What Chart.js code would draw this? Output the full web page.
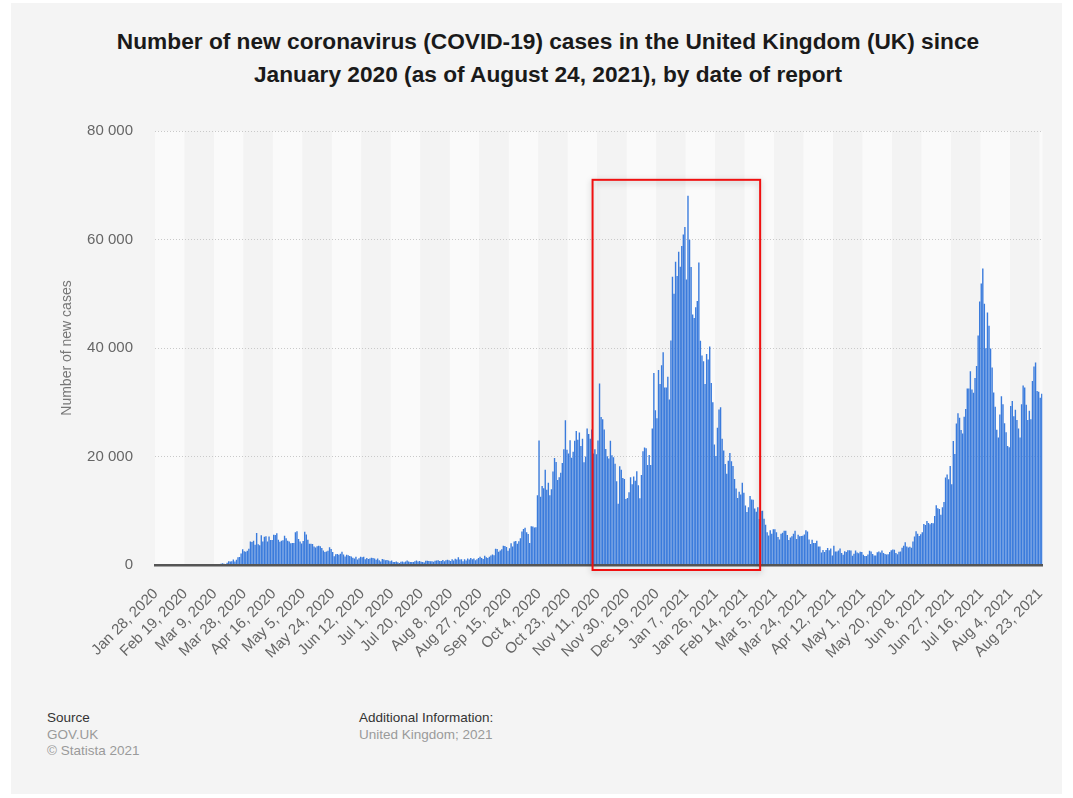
<!DOCTYPE html>
<html>
<head>
<meta charset="utf-8">
<script src="https://cdn.jsdelivr.net/npm/chart.js@4.4.1/dist/chart.umd.min.js"></script>
<style>
  html, body { margin: 0; padding: 0; background: #ffffff; width: 1073px; height: 798px; overflow: hidden; font-family: "Liberation Sans", Arial, sans-serif; }
  #panel { position: absolute; left: 11px; top: 3px; width: 1051px; height: 791px; background: #f4f4f4; }
  #title { position: absolute; left: 0; top: 25px; width: 1096px; text-align: center; font-weight: bold; font-size: 22.7px; line-height: 33px; color: #1a1a1a; }
  #chartBox { position: absolute; left: 0; top: 100px; width: 1073px; height: 580px; }
  .foot { position: absolute; font-size: 13.5px; line-height: 16.5px; }
  .foot .h { color: #333; }
  .foot .g { color: #9a9a9a; }
</style>
</head>
<body>
<div id="panel"></div>
<div id="title">Number of new coronavirus (COVID-19) cases in the United Kingdom (UK) since<br>January 2020 (as of August 24, 2021), by date of report</div>
<div id="chartBox"><canvas id="c"></canvas></div>
<div class="foot" style="left:47px; top:710px;"><div class="h">Source</div><div class="g">GOV.UK</div><div class="g">© Statista 2021</div></div>
<div class="foot" style="left:359px; top:710px;"><div class="h">Additional Information:</div><div class="g">United Kingdom; 2021</div></div>
<script>
// ---- Categories ----
const earlyDates = ["Jan 28, 2020","Jan 29, 2020","Jan 30, 2020","Jan 31, 2020","Feb 1, 2020","Feb 2, 2020","Feb 3, 2020","Feb 4, 2020","Feb 5, 2020","Feb 6, 2020","Feb 7, 2020","Feb 9, 2020","Feb 10, 2020","Feb 11, 2020","Feb 12, 2020","Feb 13, 2020","Feb 15, 2020","Feb 16, 2020","Feb 18, 2020"];
const dailyFrom = "2020-02-19";
const dailyTo = "2021-08-24";
const tickEvery = 19;

// ---- Series values (new cases by date of report) ----
const casesEarly2020 = [0,0,0,2,0,0,0,0,0,1,0,0,4,1,0,0,0,0,0];
const casesFeb2020 = [0,0,1,0,0,4,4,0,2,5,3];
const casesMar2020 = [12,4,11,34,29,48,45,69,43,67,48,134,208,342,251,152,407,676,643,714,1035,665,967,1427,1452,2129,2885,2546,2433,2619,3009];
const casesApr2020 = [4324,4244,4450,3735,5903,3802,3634,5491,4344,5195,5288,4342,5252,4603,4617,5599,5526,5850,4676,4301,4451,4583,5386,4913,4463,4309,3996,4076,4076,6032];
const casesMay2020 = [6201,4806,4339,3985,4406,6111,5614,4649,3896,3923,3877,3403,3242,3446,3560,3451,3142,2684,2412,2472,2615,3287,2959,2409,1625,2004,2013,1887,2095,2445,1936];
const casesJun2020 = [1570,1871,1805,1650,1557,1326,1205,1541,1003,1266,1541,1425,1514,1056,1279,1115,1218,1346,1295,1221,958,1221,874,653,1118,1006,890,901,815,689];
const casesJul2020 = [829,576,544,624,516,352,581,630,512,642,820,650,530,538,538,687,827,651,726,580,560,445,769,767,744,689,685,581,763,846,880];
const casesAug2020 = [743,744,938,670,892,950,871,758,1062,816,1148,1009,1441,1012,1077,713,1040,812,1182,1033,1288,1041,1184,853,1048,1276,1522,1276,1108,1715,1406];
const casesSep2020 = [1295,1508,1735,1940,1813,2988,2948,2460,2659,2919,3539,3497,3330,2621,3105,3991,3395,4322,4422,3899,4368,4926,6178,6634,6874,6042,5693,4044,7143,7108];
const casesOct2020 = [6914,6968,12872,22961,12594,14542,14162,17540,13864,15166,12872,13972,17234,19724,18980,15650,16171,16982,18804,21331,26688,21242,20530,23012,19790,20890,22885,24701,23065,24405,21915];
const casesNov2020 = [23254,18950,20018,25177,24141,23287,24957,20572,21350,20412,22950,33470,27301,26860,24962,21363,20051,19609,22915,20252,19875,18662,15450,11299,18213,17555,16022,15871,12155,12330];
const casesDec2020 = [13430,16170,14879,16298,15539,17272,14718,12282,16578,20964,21672,21502,18447,20263,18450,25161,35383,28507,27052,35928,33364,36804,39237,32725,32725,34693,30501,41385,53135,50023,55892];
const casesJan2021 = [53285,57725,54990,58784,60916,62322,52618,68053,59937,54940,46169,45533,47525,48682,55761,41346,38598,37535,33355,38905,37892,40261,33552,30004,22195,20089,25308,28680,29079,23275,21088];
const casesFeb2021 = [18607,16840,19202,20634,19114,18262,15845,14104,12364,13494,13013,15144,13308,10972,9765,10625,12718,12057,12027,10406,9834,10641,8489,9938,9985,8523,7434,6035];
const casesMar2021 = [5455,6385,5766,6573,6609,6040,5177,4712,5766,5926,6305,6303,5534,4618,5089,5294,5758,6303,4802,5587,5312,5342,5379,5605,6397,6187,4715,3862,4654,4040,4052];
const casesApr2021 = [4479,3402,3423,2297,2762,2379,2763,3150,2706,3060,1730,3568,2472,2491,2672,3030,2206,1882,2524,2396,2729,2729,2678,1712,2061,2685,2315,2166,2445,2381];
const casesMay2021 = [1907,1671,1649,1946,2613,2490,2047,1770,1745,2357,2474,2284,2657,2193,2027,1926,1979,2412,2696,2874,2829,2235,1979,2439,2493,3180,3542,4182,3398,3240,3383];
const casesJun2021 = [3165,4330,5274,6238,5765,5341,5683,6048,7540,7393,8125,7738,7490,7742,7673,9055,11007,10476,10321,9284,10633,11625,16135,16703,15810,18270,14876,22868,20479,26068];
const casesJul2021 = [27989,27125,24885,24248,27334,28773,32548,32551,35707,32367,31772,34471,36660,42302,48553,51870,54674,48161,39950,46558,44104,39906,36389,31795,29173,24950,23511,27734,31117,29622,26144];
const casesAug2021 = [24470,21952,21691,29312,30215,27429,28612,26750,25161,23510,29612,33074,32700,29520,26750,28438,26852,33904,36572,37314,32058,31914,30838,31564];

// ---- Axis ----
const yTicks = [0, 20000, 40000, 60000, 80000];
const yMax = 80000;

// ---- Highlight box (data terms) ----
const highlightFrom = "Nov 8, 2020";
const highlightTo = "Feb 23, 2021";
const highlightTop = 71000;

// build labels
const MONTHS = ["Jan","Feb","Mar","Apr","May","Jun","Jul","Aug","Sep","Oct","Nov","Dec"];
const labels = earlyDates.slice();
for (let d = new Date(dailyFrom + "T00:00:00Z"); d <= new Date(dailyTo + "T00:00:00Z"); d.setUTCDate(d.getUTCDate() + 1)) {
  labels.push(MONTHS[d.getUTCMonth()] + " " + d.getUTCDate() + ", " + d.getUTCFullYear());
}
const values = [].concat(casesEarly2020, casesFeb2020, casesMar2020, casesApr2020, casesMay2020, casesJun2020,
  casesJul2020, casesAug2020, casesSep2020, casesOct2020, casesNov2020, casesDec2020, casesJan2021,
  casesFeb2021, casesMar2021, casesApr2021, casesMay2021, casesJun2021, casesJul2021, casesAug2021);

const FONT = '"Liberation Sans", Arial, sans-serif';

const bandsPlugin = {
  id: 'bands',
  beforeDraw(chart) {
    const {ctx, chartArea: a, scales: {x}} = chart;
    const half = (x.getPixelForValue(1) - x.getPixelForValue(0)) / 2;
    ctx.save();
    let k = 0;
    for (let i = 0; i < labels.length; i += tickEvery, k++) {
      const x0 = x.getPixelForValue(i) - half;
      const next = i + tickEvery;
      const x1 = next < labels.length ? x.getPixelForValue(next) - half : a.right;
      ctx.fillStyle = (k % 2 === 0) ? '#fafafa' : '#f3f3f3';
      ctx.fillRect(x0, a.top, x1 - x0, a.bottom - a.top);
    }
    ctx.restore();
  }
};

const highlightPlugin = {
  id: 'highlight',
  afterDraw(chart) {
    const {ctx, scales: {x, y}} = chart;
    const half = (x.getPixelForValue(1) - x.getPixelForValue(0)) / 2;
    const i0 = labels.indexOf(highlightFrom), i1 = labels.indexOf(highlightTo);
    const left = x.getPixelForValue(i0) - half;
    const right = x.getPixelForValue(i1) + half;
    const top = y.getPixelForValue(highlightTop);
    const bottom = y.getPixelForValue(0) + 5;
    ctx.save();
    ctx.shadowColor = 'rgba(0,0,0,0.25)';
    ctx.shadowBlur = 6;
    ctx.shadowOffsetY = 2;
    ctx.strokeStyle = '#f01010';
    ctx.lineWidth = 2;
    ctx.strokeRect(left, top, right - left, bottom - top);
    ctx.restore();
  }
};

new Chart(document.getElementById('c'), {
  type: 'bar',
  data: {
    labels: labels,
    datasets: [{
      data: values,
      backgroundColor: '#3a7bdc',
      borderWidth: 0,
      barPercentage: 0.9,
      categoryPercentage: 1.0
    }]
  },
  options: {
    responsive: true,
    maintainAspectRatio: false,
    animation: false,
    events: [],
    layout: { padding: { top: 30, right: 23, bottom: 0, left: 0 } },
    plugins: { legend: { display: false }, tooltip: { enabled: false } },
    scales: {
      x: {
        type: 'category',
        grid: { display: false, drawTicks: false },
        border: { display: true, color: '#555555', width: 2.5, z: 1 },
        afterFit(s) { s.height = 115; },
        ticks: {
          autoSkip: false,
          minRotation: 45,
          maxRotation: 45,
          padding: 20,
          color: '#666666',
          font: { family: FONT, size: 15 },
          callback(val, idx) { return idx % tickEvery === 0 ? this.getLabelForValue(val) : null; }
        }
      },
      y: {
        min: 0,
        max: yMax,
        afterBuildTicks(s) { s.ticks = yTicks.map(v => ({ value: v })); },
        afterFit(s) { s.width = 155; },
        grid: {
          drawTicks: false,
          color: (c) => c.tick && c.tick.value === 0 ? 'rgba(0,0,0,0)' : '#c9c9c9',
          lineWidth: 1
        },
        border: { display: false, dash: [1, 2] },
        ticks: {
          padding: 22,
          color: '#666666',
          font: { family: FONT, size: 15 },
          callback: (v) => v === 0 ? '0' : (v / 1000) + ' 000'
        },
        title: {
          display: true,
          text: 'Number of new cases',
          color: '#777777',
          font: { family: FONT, size: 14 },
          padding: { top: 59, bottom: 0 }
        }
      }
    }
  },
  plugins: [bandsPlugin, highlightPlugin]
});
</script>
</body>
</html>
